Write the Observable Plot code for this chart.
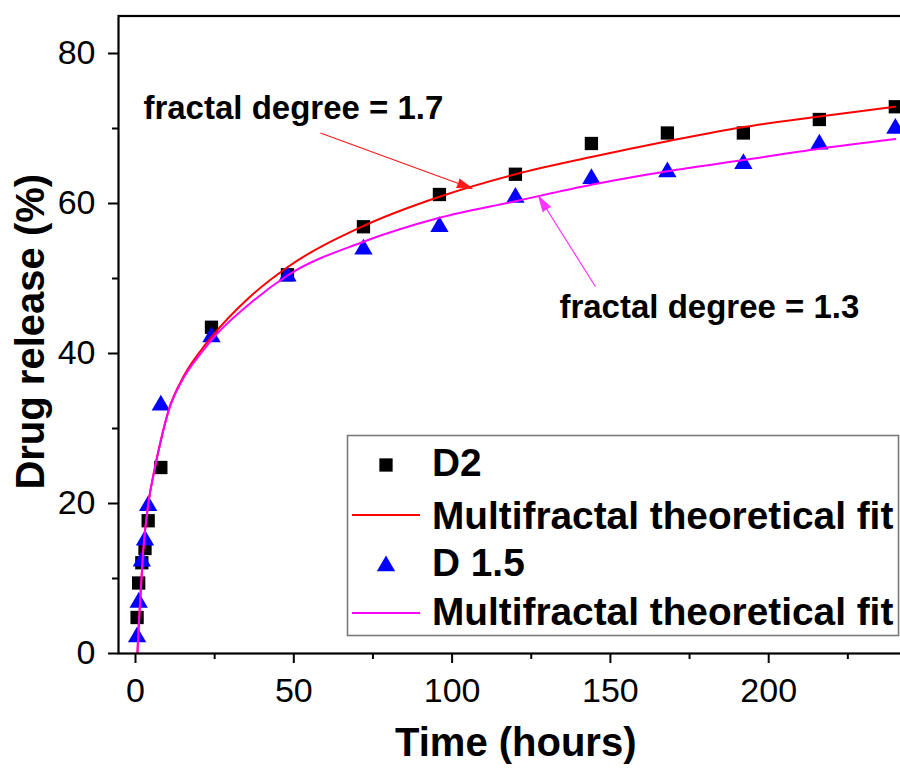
<!DOCTYPE html>
<html><head><meta charset="utf-8">
<script src="https://cdn.jsdelivr.net/npm/d3@7"></script>
<script src="https://cdn.jsdelivr.net/npm/@observablehq/plot@0.6"></script>
<style>
html,body{margin:0;padding:0;background:#fff;overflow:hidden;width:900px;height:771px;}
#wrap{position:relative;width:930px;height:771px;}
#wrap svg{position:absolute;left:0;top:0;}
</style></head><body>
<div id="wrap"></div>
<script>
// ---- data ----
const times = [0.5, 1, 2, 3, 4, 8, 24, 48, 72, 96, 120, 144, 168, 192, 216, 240];
const releaseD2 = [4.8, 9.4, 12.1, 14.0, 17.7, 24.8, 43.5, 50.5, 56.9, 61.2, 63.9, 68.0, 69.4, 69.4, 71.2, 72.9];
const releaseD15 = [2.2, 6.8, 12.3, 15.1, 19.7, 33.1, 42.2, 50.3, 53.9, 56.9, 60.8, 63.3, 64.2, 65.3, 67.9, 70.0];
const fitTimes = [0.6, 1, 1.5, 2.4, 4, 6, 8, 10.5, 15, 21, 24, 36, 48, 72, 96, 120, 144, 168, 192, 216, 240];
const fitD2 = [0, 3.5, 7.2, 13.5, 19.8, 24.5, 28.4, 32.5, 36.8, 40.6, 42.2, 47.5, 51.5, 57.0, 60.9, 63.9, 66.2, 68.3, 70.2, 71.6, 72.9];
const fitD15 = [0, 3.5, 7.2, 13.5, 19.8, 24.5, 28.4, 32.4, 36.6, 40.2, 41.8, 46.6, 50.4, 54.9, 58.1, 60.3, 62.5, 64.3, 65.8, 67.3, 68.6];
const xMajorTicks = [0, 50, 100, 150, 200];
const xMinorTicks = [25, 75, 125, 175, 225];
const yMajorTicks = [0, 20, 40, 60, 80];
const yMinorTicks = [10, 30, 50, 70];
const annotationText = ["fractal degree = 1.7", "fractal degree = 1.3"];
const annotationX = [2.5, 133.9];
const annotationY = [71.3, 44.8];
const arrowX1 = [58.4, 145.3];
const arrowY1 = [69.4, 48.9];
const arrowX2 = [106.3, 127.4];
const arrowY2 = [62.0, 60.9];
const arrowColor = ["#ff1a1a", "#ff33ff"];
const legendLabels = ["D2", "Multifractal theoretical fit", "D 1.5", "Multifractal theoretical fit"];
const xTitle = "Time (hours)";
const yTitle = "Drug release (%)";

// ---- layout ----
const W = 930, H = 771, mL = 118, mR = 3.5, mT = 15.5, mB = 118;
const xDomain = [-5.37, 250], yDomain = [0, 85];
const kx = (W - mL - mR) / (xDomain[1] - xDomain[0]);
const ky = (H - mT - mB) / (yDomain[1] - yDomain[0]);
const FONT = "'Liberation Sans', Arial, Helvetica, sans-serif";

const pts = times.map((t, i) => ({t, a: releaseD2[i], b: releaseD15[i]}));
const fit = fitTimes.map((t, i) => ({t, a: fitD2[i], b: fitD15[i]}));
const arrows = arrowX1.map((x1, i) => ({
  x1, y1: arrowY1[i], x2: arrowX2[i], y2: arrowY2[i], color: arrowColor[i],
  angle: Math.atan2((arrowX2[i] - x1) * kx, (arrowY2[i] - arrowY1[i]) * ky) * 180 / Math.PI
}));
const annos = annotationText.map((s, i) => ({s, x: annotationX[i], y: annotationY[i]}));

const chart = Plot.plot({
  width: W, height: H,
  marginLeft: mL, marginRight: mR, marginTop: mT, marginBottom: mB,
  style: {fontFamily: FONT, fontSize: "34px", color: "#000", background: "transparent", overflow: "visible"},
  x: {domain: xDomain},
  y: {domain: yDomain},
  marks: [
    Plot.axisX({ticks: xMajorTicks, tickSize: 10, tickPadding: 14, tickFormat: d => String(d), label: null, strokeWidth: 2, fontSize: 34}),
    Plot.axisX({ticks: xMinorTicks, tickSize: 6, fill: "none", label: null, strokeWidth: 2}),
    Plot.axisY({ticks: yMajorTicks, tickSize: 10, tickPadding: 13, tickFormat: d => String(d), label: null, strokeWidth: 2, fontSize: 34}),
    Plot.axisY({ticks: yMinorTicks, tickSize: 6, fill: "none", label: null, strokeWidth: 2}),
    Plot.dot(pts, {x: "t", y: "a", symbol: "square", r: 7.5, fill: "#000", stroke: "none"}),
    Plot.dot(pts, {x: "t", y: "b", symbol: "triangle", r: 6.8, fill: "#0000ff", stroke: "none"}),
    Plot.line(fit, {x: "t", y: "a", stroke: "#ff0000", strokeWidth: 2, curve: "monotone-x", clip: true}),
    Plot.line(fit, {x: "t", y: "b", stroke: "#ff00ff", strokeWidth: 2, curve: "monotone-x", clip: true}),
    ...arrows.flatMap(a => [
      Plot.link([a], {x1: "x1", y1: "y1", x2: "x2", y2: "y2", stroke: a.color, strokeWidth: 1.2}),
      Plot.vector([a], {x: "x2", y: "y2", rotate: a.angle, length: 15, r: 4.5, shape: "spike", anchor: "end", fill: a.color, stroke: a.color, strokeWidth: 1})
    ]),
    Plot.text(annos, {x: "x", y: "y", text: "s", textAnchor: "start", lineAnchor: "bottom", fontSize: 33, fontWeight: "bold", fill: "#000"}),
    Plot.text([xTitle], {frameAnchor: "bottom", textAnchor: "middle", dx: -7, dy: 102, lineAnchor: "bottom", fontSize: 40, fontWeight: "bold", fill: "#000"}),
    Plot.text([yTitle], {frameAnchor: "left", textAnchor: "middle", dx: -87.5, dy: -3, rotate: -90, lineAnchor: "middle", fontSize: 40, fontWeight: "bold", fill: "#000"}),
    Plot.frame({stroke: "#000", strokeWidth: 2.2})
  ]
});
document.getElementById("wrap").appendChild(chart);

// ---- legend overlay ----
const lg = d3.select("#wrap").append("svg")
  .attr("width", W).attr("height", H)
  .style("pointer-events", "none")
  .style("font-family", FONT);
lg.append("rect").attr("x", 347.5).attr("y", 435.5).attr("width", 551).attr("height", 200)
  .attr("fill", "#fff").attr("stroke", "#7a7a7a").attr("stroke-width", 1.6);
const rowBase = [476, 529, 576, 625];
const rowMid = [465, 515, 566, 613];
lg.append("path").attr("transform", `translate(386,${rowMid[0]})`)
  .attr("d", d3.symbol(d3.symbolSquare, Math.PI * 7.5 * 7.5)()).attr("fill", "#000");
lg.append("line").attr("x1", 352).attr("x2", 420).attr("y1", rowMid[1]).attr("y2", rowMid[1])
  .attr("stroke", "#ff0000").attr("stroke-width", 2);
lg.append("path").attr("transform", `translate(386,${rowMid[2]})`)
  .attr("d", d3.symbol(d3.symbolTriangle, Math.PI * 6.8 * 6.8)()).attr("fill", "#0000ff");
lg.append("line").attr("x1", 352).attr("x2", 420).attr("y1", rowMid[3]).attr("y2", rowMid[3])
  .attr("stroke", "#ff00ff").attr("stroke-width", 2);
legendLabels.forEach((s, i) => {
  lg.append("text").attr("x", 432).attr("y", rowBase[i]).attr("font-size", 38.8)
    .attr("font-weight", "bold").attr("fill", "#000").text(s);
});
</script>
</body></html>
